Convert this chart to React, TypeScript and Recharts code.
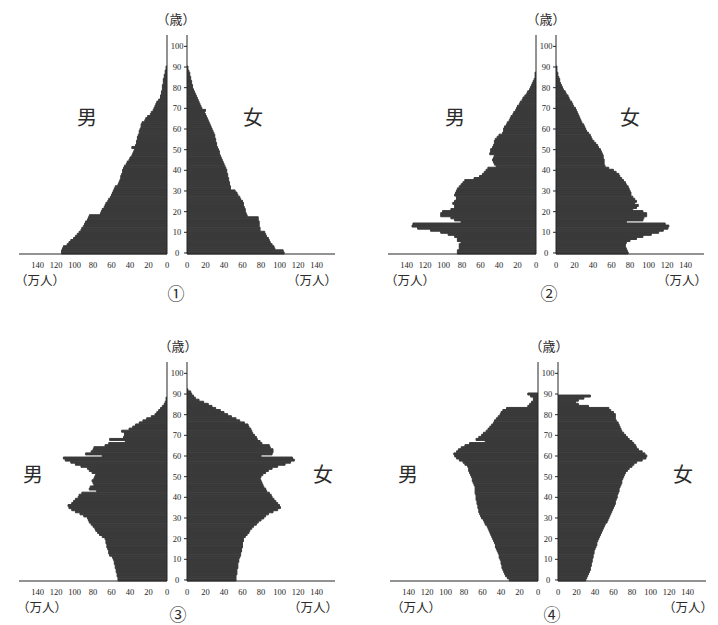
import React from "react";
import { Bar, BarChart, XAxis, YAxis } from "recharts";

// age categories 0..105 (single years)
const ages: number[] = Array.from({ length: 106 }, (_, i) => i);
const ageTicks = [0, 10, 20, 30, 40, 50, 60, 70, 80, 90, 100];
const popTicks = [0, 20, 40, 60, 80, 100, 120, 140];

// values in 万人, index = age
const p1Male = [
  114, 114, 113, 112, 108, 106, 104, 101, 99, 97, 95, 93, 92, 90, 89, 88, 86, 85, 84, 72,
  71, 70, 68, 67, 66, 64, 63, 61, 60, 59, 58, 57, 56, 53, 52, 51, 50, 50, 49, 48,
  48, 47, 46, 44, 43, 41, 40, 38, 37, 36, 35, 38, 34, 33, 33, 32, 32, 31, 30, 30,
  29, 28, 28, 27, 24, 23, 21, 18, 17, 15, 14, 13, 12, 11, 9, 7, 7, 6, 6, 5,
  5, 5, 4, 4, 4, 3, 3, 2, 2, 1, 1,
];
const p1Female = [
  105, 104, 95, 94, 92, 90, 89, 88, 86, 85, 84, 79, 79, 78, 78, 78, 77, 77, 65, 64,
  63, 63, 62, 61, 61, 60, 58, 57, 55, 54, 52, 47, 47, 46, 46, 45, 45, 44, 44, 43,
  43, 42, 41, 40, 39, 38, 37, 36, 35, 35, 34, 33, 32, 32, 31, 31, 30, 30, 29, 28,
  27, 26, 25, 24, 23, 22, 21, 20, 19, 20, 16, 15, 14, 13, 12, 11, 10, 9, 8, 7,
  6, 6, 5, 5, 4, 4, 3, 3, 2, 1, 1,
];
const p2Male = [
  85, 85, 83, 83, 83, 81, 85, 85, 88, 95, 103, 114, 128, 134, 133, 81, 88, 92, 103, 103,
  101, 92, 88, 88, 90, 88, 86, 86, 88, 87, 86, 85, 83, 81, 79, 77, 67, 61, 58, 56,
  54, 52, 43, 45, 46, 47, 46, 45, 50, 49, 49, 47, 46, 45, 45, 44, 42, 40, 36, 35,
  35, 34, 32, 31, 29, 28, 27, 25, 24, 22, 21, 20, 18, 17, 15, 14, 12, 10, 9, 7,
  6, 5, 4, 3, 2, 1, 1, 1,
];
const p2Female = [
  78, 77, 76, 75, 75, 76, 80, 87, 94, 103, 111, 116, 121, 122, 118, 76, 94, 95, 98, 98,
  94, 83, 87, 89, 85, 87, 85, 83, 81, 81, 80, 79, 78, 76, 75, 73, 71, 69, 68, 65,
  62, 57, 53, 52, 52, 52, 51, 51, 50, 49, 48, 46, 45, 43, 41, 39, 38, 37, 35, 33,
  32, 31, 30, 28, 27, 26, 25, 24, 23, 22, 21, 19, 18, 17, 15, 14, 13, 11, 10, 8,
  7, 6, 5, 4, 4, 3, 2, 2, 1, 1, 1,
];
const p3Male = [
  53, 53, 54, 54, 55, 55, 56, 56, 57, 57, 58, 59, 62, 63, 63, 64, 65, 65, 66, 66,
  67, 70, 73, 75, 77, 78, 80, 82, 84, 85, 86, 90, 94, 99, 103, 106, 107, 103, 101, 99,
  96, 95, 92, 76, 84, 83, 79, 80, 81, 79, 78, 77, 81, 84, 86, 93, 99, 104, 110, 112,
  70, 88, 82, 80, 79, 67, 63, 45, 62, 47, 46, 46, 49, 41, 37, 34, 30, 26, 22, 17,
  13, 11, 9, 7, 5, 3, 2, 1, 1,
];
const p3Female = [
  53, 53, 53, 54, 54, 54, 55, 55, 55, 56, 56, 57, 58, 58, 59, 59, 60, 60, 60, 61,
  61, 63, 65, 67, 68, 70, 72, 75, 77, 80, 83, 85, 88, 93, 98, 101, 100, 98, 96, 94,
  92, 91, 89, 86, 85, 83, 82, 81, 80, 79, 80, 82, 85, 88, 92, 98, 106, 112, 116, 114,
  80, 92, 93, 93, 90, 89, 81, 79, 76, 75, 73, 71, 70, 69, 67, 66, 62, 57, 53, 48,
  44, 40, 36, 31, 27, 23, 18, 13, 9, 7, 5, 4, 1,
];
const p4Male = [
  31, 33, 35, 36, 37, 38, 39, 39, 40, 40, 41, 42, 42, 43, 44, 45, 46, 46, 47, 48,
  49, 50, 51, 52, 53, 54, 55, 57, 58, 59, 61, 62, 63, 64, 64, 65, 65, 66, 66, 67,
  67, 67, 68, 68, 68, 68, 69, 70, 71, 71, 72, 73, 74, 75, 75, 76, 79, 81, 85, 88,
  90, 91, 88, 86, 83, 79, 74, 57, 67, 64, 61, 59, 56, 54, 52, 50, 48, 47, 45, 43,
  41, 40, 38, 34, 11, 9, 7, 5, 5, 8, 11,
];
const p4Female = [
  30, 31, 32, 33, 34, 35, 35, 36, 36, 37, 37, 38, 38, 39, 39, 40, 41, 42, 42, 43,
  44, 45, 46, 47, 48, 49, 50, 51, 53, 54, 55, 56, 57, 58, 59, 60, 61, 62, 62, 63,
  64, 64, 65, 66, 66, 67, 68, 69, 69, 70, 71, 72, 73, 75, 77, 80, 82, 85, 91, 95,
  96, 94, 91, 87, 85, 84, 82, 80, 77, 75, 73, 71, 69, 68, 67, 66, 65, 63, 62, 62,
  62, 60, 57, 55, 33, 22, 19, 22, 28, 35,
];

const PLOT_W = 148;
const PLOT_H = 219;
const GAP = 20;
const AXIS_H = 20;
const BAR = "#3a3a3a";
const INK = "#262626";
const SERIF = "'Liberation Serif', 'DejaVu Serif', serif";
const CJK = "'Noto Sans CJK JP', sans-serif";

type PanelProps = {
  male: number[];
  female: number[];
  lineX: number; // x of the male zero line
  top: number; // top of plot area
  mark: string;
  ageX: number;
  ageY: number;
  maleLabel: [number, number];
  femaleLabel: [number, number];
  unitLeft: [number, number];
  unitRight: [number, number];
  markPos: [number, number];
};

function AgeTick({ x, y, payload }: any) {
  return (
    <text
      x={x - 5}
      y={y}
      dy={3}
      textAnchor="middle"
      fontSize={8.5}
      fontFamily={SERIF}
      fill={INK}
    >
      {payload.value}
    </text>
  );
}

const popTick = { fontSize: 8.5, fontFamily: SERIF, fill: INK };

function Label({ x, y, size, children }: { x: number; y: number; size: number; children: React.ReactNode }) {
  return (
    <div
      style={{
        position: "absolute",
        left: x,
        top: y,
        transform: "translate(-50%, -50%)",
        fontFamily: CJK,
        fontSize: size,
        color: "#2b2b2b",
        whiteSpace: "nowrap",
        lineHeight: 1,
      }}
    >
      {children}
    </div>
  );
}

function Panel(p: PanelProps) {
  const rows = ages.map((age) => ({
    age,
    male: p.male[age] ?? 0,
    female: p.female[age] ?? 0,
  }));

  return (
    <>
      <div style={{ position: "absolute", left: p.lineX - PLOT_W, top: p.top }}>
        <BarChart
          width={PLOT_W + 4}
          height={PLOT_H + AXIS_H}
          data={rows}
          layout="vertical"
          barCategoryGap={0}
          barGap={0}
          margin={{ top: 0, right: 0, bottom: 0, left: 0 }}
        >
          <XAxis
            type="number"
            domain={[0, 160]}
            ticks={popTicks}
            reversed
            interval={0}
            height={AXIS_H}
            tickLine={false}
            tickMargin={2}
            axisLine={{ stroke: INK }}
            tick={popTick}
            allowDataOverflow
          />
          <YAxis
            type="category"
            dataKey="age"
            orientation="right"
            reversed
            ticks={ageTicks}
            interval={0}
            width={4}
            tickSize={3}
            tick={false}
            tickLine={{ stroke: INK }}
            axisLine={{ stroke: INK }}
          />
          <Bar dataKey="male" fill={BAR} stroke={BAR} strokeWidth={1} isAnimationActive={false} />
        </BarChart>
      </div>
      <div style={{ position: "absolute", left: p.lineX, top: p.top }}>
        <BarChart
          width={GAP + PLOT_W + 2}
          height={PLOT_H + AXIS_H}
          data={rows}
          layout="vertical"
          barCategoryGap={0}
          barGap={0}
          margin={{ top: 0, right: 2, bottom: 0, left: 0 }}
        >
          <XAxis
            type="number"
            domain={[0, 160]}
            ticks={popTicks}
            interval={0}
            height={AXIS_H}
            tickLine={false}
            tickMargin={2}
            axisLine={{ stroke: INK }}
            tick={popTick}
            allowDataOverflow
          />
          <YAxis
            type="category"
            dataKey="age"
            orientation="left"
            reversed
            ticks={ageTicks}
            interval={0}
            width={GAP}
            tickSize={3}
            tickMargin={2}
            tick={<AgeTick />}
            tickLine={{ stroke: INK }}
            axisLine={{ stroke: INK }}
          />
          <Bar dataKey="female" fill={BAR} stroke={BAR} strokeWidth={1} isAnimationActive={false} />
        </BarChart>
      </div>
      <Label x={p.ageX} y={p.ageY} size={13}>（歳）</Label>
      <Label x={p.maleLabel[0]} y={p.maleLabel[1]} size={20}>男</Label>
      <Label x={p.femaleLabel[0]} y={p.femaleLabel[1]} size={20}>女</Label>
      <Label x={p.unitLeft[0]} y={p.unitLeft[1]} size={12.5}>（万人）</Label>
      <Label x={p.unitRight[0]} y={p.unitRight[1]} size={12.5}>（万人）</Label>
      <Label x={p.markPos[0]} y={p.markPos[1]} size={17}>{p.mark}</Label>
    </>
  );
}

export default function App() {
  return (
    <div
      style={{
        position: "absolute",
        left: 0,
        top: 0,
        width: 718,
        height: 625,
        background: "#ffffff",
        overflow: "hidden",
      }}
    >
      <Panel
        male={p1Male}
        female={p1Female}
        lineX={167}
        top={35}
        mark="①"
        ageX={176}
        ageY={18}
        maleLabel={[87, 117]}
        femaleLabel={[253, 117]}
        unitLeft={[40, 280]}
        unitRight={[312, 280]}
        markPos={[176, 292]}
      />
      <Panel
        male={p2Male}
        female={p2Female}
        lineX={536}
        top={35}
        mark="②"
        ageX={546}
        ageY={18}
        maleLabel={[455, 117]}
        femaleLabel={[630, 117]}
        unitLeft={[410, 280]}
        unitRight={[682, 280]}
        markPos={[549, 292]}
      />
      <Panel
        male={p3Male}
        female={p3Female}
        lineX={167}
        top={362}
        mark="③"
        ageX={178}
        ageY={345}
        maleLabel={[33, 474]}
        femaleLabel={[323, 474]}
        unitLeft={[42, 607]}
        unitRight={[313, 607]}
        markPos={[178, 613]}
      />
      <Panel
        male={p4Male}
        female={p4Female}
        lineX={538}
        top={362}
        mark="④"
        ageX={549}
        ageY={345}
        maleLabel={[408, 474]}
        femaleLabel={[683, 474]}
        unitLeft={[416, 607]}
        unitRight={[688, 607]}
        markPos={[552, 613]}
      />
    </div>
  );
}
